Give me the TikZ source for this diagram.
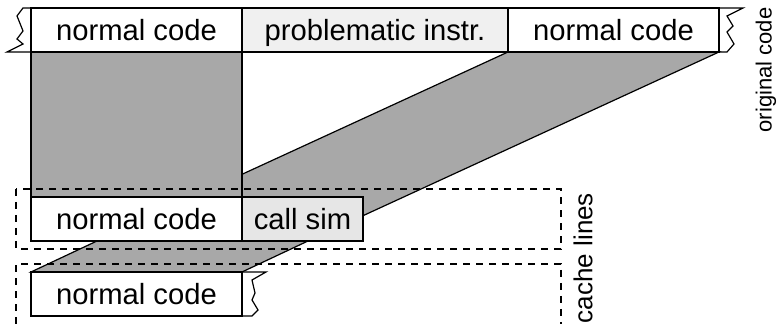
\documentclass[tikz,border=0pt]{standalone}
\usepackage{fontspec}
\setmainfont{Liberation Sans}
\usetikzlibrary{positioning, calc, backgrounds}
\definecolor{cBand}{RGB}{168,168,168}
\definecolor{cProb}{RGB}{240,240,240}
\definecolor{cCall}{RGB}{230,230,230}
\tikzset{
	codebox/.style={rectangle, draw=black, fill=white, minimum height=22pt, inner sep=0pt, outer sep=0pt, text centered, text height=1.1em, text depth=0pt, line width=0.7pt},
	band/.style={fill=cBand, draw=black, line width=0.6pt},
	cacheline/.style={dash pattern=on 3.5pt off 3pt, line width=0.6pt},
	zigzag/.style={draw=black, line width=0.6pt, line join=miter},
}

\begin{document}
\begin{tikzpicture}[x=0.5pt, y=-0.5pt, font=\fontsize{14.6}{17}\selectfont]
	\useasboundingbox (0,0) rectangle (778,324);
	% original code
	\node[codebox, minimum width=105.5pt] (n1) at (136.5,30) {normal code};
	\node[codebox, minimum width=133pt, fill=cProb, right=0pt of n1] (pi) {problematic instr.};
	\node[codebox, minimum width=105.5pt, right=0pt of pi] (n2) {normal code};
	% cache lines
	\node[codebox, minimum width=105.5pt, below=72.5pt of n1] (c1) {normal code};
	\node[codebox, minimum width=60.5pt, fill=cCall, right=0pt of c1] (cs) {call sim};
	\node[codebox, minimum width=105.5pt, below=15.5pt of c1] (d1) {normal code};
	\coordinate (hw) at ($(c1.south west)+(66,0)$);
	\coordinate (he) at ($(hw)+(211,0)$);
	\begin{scope}[on background layer]
		\filldraw[band] (n2.south west) -- (hw) -- (he) -- (n2.south east) -- cycle;
		\filldraw[band] (n1.south west) rectangle (c1.north east);
		\filldraw[band] (hw) -- (d1.north west) -- (d1.north east) -- (he) -- cycle;
	\end{scope}
	% cut ends
	\draw[zigzag] (n1.north west) -- ++(-8,0) -- ++(-6,8) -- ++(6,15) -- ++(-6,8) -- ++(6,5) -- ++(-16,8) -- (n1.south west);
	\draw[zigzag] (n2.north east) -- ++(24,0) -- ++(-16,8) -- ++(6,10) -- ++(-6,6) -- ++(7,12) -- ++(-7,8) -- (n2.south east);
	\draw[zigzag] (d1.north east) -- ++(24,0) -- ++(-14,8) -- ++(3,13) -- ++(-3,7) -- ++(6,10) -- ++(-6,6) -- (d1.south east);
	% dashed cache line frames
	\draw[cacheline] ($(c1.north west)+(-15,-8)$) rectangle ($(cs.south east)+(198,8)$);
	\draw[cacheline] ($(d1.south west)+(-15,8)$) -- ($(d1.north west)+(-15,-8)$) -- ($(d1.north east)+(319,-8)$) -- ($(d1.south east)+(319,8)$);
	\node[rotate=90, font=\fontsize{11}{13}\selectfont] (lorig) at (766,70) {original code};
	\node[rotate=90, font=\fontsize{13}{15}\selectfont] (lcache) at (583,258) {cache lines};
\end{tikzpicture}
\end{document}
